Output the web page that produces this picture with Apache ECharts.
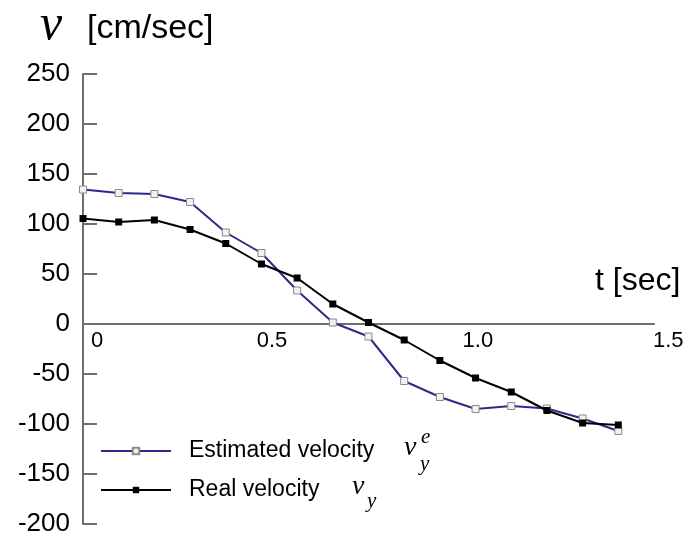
<!DOCTYPE html>
<html>
<head>
<meta charset="utf-8">
<script src="https://cdn.jsdelivr.net/npm/echarts@6/dist/echarts.min.js"></script>
<style>
html,body{margin:0;padding:0;background:#fff;}
#chart{width:691px;height:539px;}
</style>
</head>
<body>
<div id="chart"></div>
<script>
// ---- data ----
const time = [0, 0.1, 0.2, 0.3, 0.4, 0.5, 0.6, 0.7, 0.8, 0.9, 1.0, 1.1, 1.2, 1.3, 1.4, 1.5];
const estimatedVelocity = [134.5, 131, 130, 122, 91.5, 71, 33.5, 1.5, -12.5, -57, -73, -85, -82, -84.5, -94.5, -107];
const realVelocity = [105.5, 102, 104, 94.5, 80.5, 60, 46, 20, 1.5, -16, -36.5, -54, -68, -86.5, -99, -101];
const xTickLabels = ['0', '0.5', '1.0', '1.5'];
const seriesNames = ['Estimated velocity', 'Real velocity'];

const AX = '#6e6e6e';
const SANS = '"Liberation Sans", Arial, sans-serif';
const SERIF = '"Liberation Serif", "DejaVu Serif", serif';

const chart = echarts.init(document.getElementById('chart'));
const pairs = arr => time.map((t, i) => [t, arr[i]]);

chart.setOption({
  animation: false,
  backgroundColor: '#fff',
  grid: { left: 83, right: 37, top: 74, bottom: 15, outerBoundsMode: 'none', containLabel: false },
  xAxis: {
    type: 'value', min: 0, max: 1.6, interval: 0.1,
    position: 'bottom', offset: -200,
    axisLine: { show: true, onZero: false, lineStyle: { color: AX, width: 2 } },
    axisTick: { show: false },
    splitLine: { show: false },
    axisLabel: {
      show: true, margin: 6, color: '#000', fontFamily: SANS, fontSize: 22,
      showMinLabel: true, showMaxLabel: true,
      formatter: function (v) {
        const k = Math.round(v * 10);
        if (k === 0) return '{a|' + xTickLabels[0] + '}';
        if (k === 5) return '{b|' + xTickLabels[1] + '}';
        if (k === 10) return '{c|' + xTickLabels[2] + '}';
        if (k === 15) return '{d|' + xTickLabels[3] + '}';
        return '';
      },
      rich: {
        a: { fontSize: 22, fontFamily: SANS, color: '#000', padding: [0, 0, 0, 28] },
        b: { fontSize: 22, fontFamily: SANS, color: '#000', padding: [0, 0, 0, 21] },
        c: { fontSize: 22, fontFamily: SANS, color: '#000', padding: [0, 0, 0, 76] },
        d: { fontSize: 22, fontFamily: SANS, color: '#000', padding: [0, 0, 0, 100] }
      }
    }
  },
  yAxis: {
    type: 'value', min: -200, max: 250, interval: 50,
    axisLine: { show: true, onZero: false, lineStyle: { color: AX, width: 2 } },
    axisTick: { show: true, inside: true, length: 14, lineStyle: { color: AX, width: 2 } },
    splitLine: { show: false },
    axisLabel: { margin: 13, color: '#000', fontFamily: SANS, fontSize: 26 }
  },
  legend: {
    left: 100, top: 437, orient: 'vertical', padding: 0,
    itemWidth: 70, itemHeight: 8, itemGap: 11,
    data: seriesNames,
    textStyle: { fontFamily: SANS, fontSize: 23, color: '#000', padding: [0, 0, 0, 13], lineHeight: 28 }
  },
  series: [
    {
      name: seriesNames[0], type: 'line', data: pairs(estimatedVelocity),
      symbol: 'rect', symbolSize: 7, showAllSymbol: true,
      lineStyle: { color: '#2b2b8c', width: 2 },
      itemStyle: { color: '#f2f2f2', borderColor: '#8a8a8a', borderWidth: 1 },
      z: 3
    },
    {
      name: seriesNames[1], type: 'line', data: pairs(realVelocity),
      symbol: 'rect', symbolSize: 7, showAllSymbol: true,
      lineStyle: { color: '#000', width: 2 },
      itemStyle: { color: '#000', borderColor: '#000', borderWidth: 0 },
      z: 4
    }
  ],
  graphic: [
    { type: 'text', x: 40, y: 26, style: { text: 'v', font: 'italic 50px ' + SERIF, fill: '#000', align: 'left', verticalAlign: 'middle' } },
    { type: 'text', x: 87, y: 29, style: { text: '[cm/sec]', font: '34px ' + SANS, fill: '#000', align: 'left', verticalAlign: 'middle' } },
    { type: 'text', x: 595, y: 281, style: { text: 't [sec]', font: '32px ' + SANS, fill: '#000', align: 'left', verticalAlign: 'middle' } },
    // legend math: v_y^e
    { type: 'text', x: 404, y: 448, style: { text: 'v', font: 'italic 28px ' + SERIF, fill: '#000', align: 'left', verticalAlign: 'middle' } },
    { type: 'text', x: 421, y: 437, style: { text: 'e', font: 'italic 21px ' + SERIF, fill: '#000', align: 'left', verticalAlign: 'middle' } },
    { type: 'text', x: 420, y: 464, style: { text: 'y', font: 'italic 21px ' + SERIF, fill: '#000', align: 'left', verticalAlign: 'middle' } },
    // legend math: v_y
    { type: 'text', x: 352, y: 487, style: { text: 'v', font: 'italic 28px ' + SERIF, fill: '#000', align: 'left', verticalAlign: 'middle' } },
    { type: 'text', x: 367, y: 501, style: { text: 'y', font: 'italic 21px ' + SERIF, fill: '#000', align: 'left', verticalAlign: 'middle' } }
  ]
});
</script>
</body>
</html>
